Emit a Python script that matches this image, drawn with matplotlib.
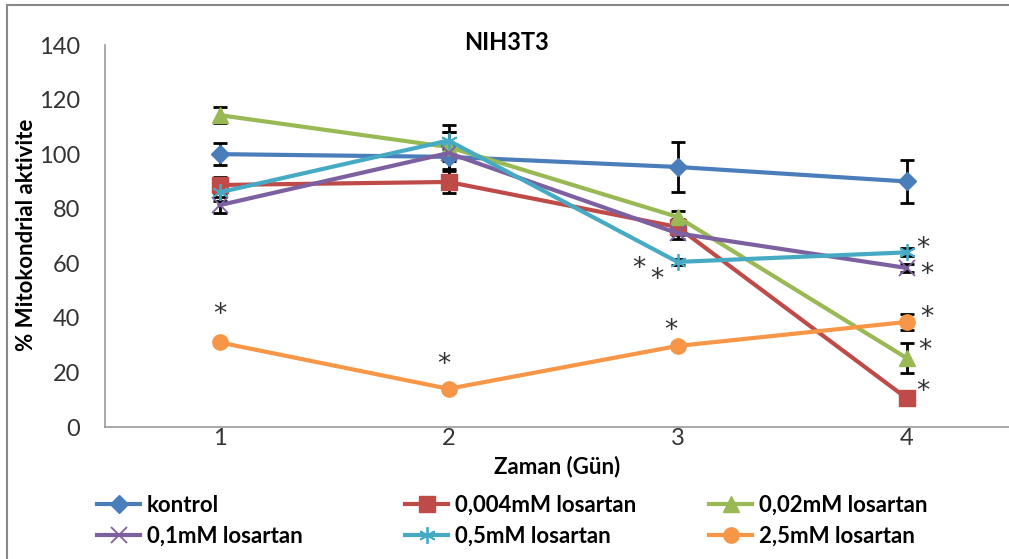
import numpy as np
import matplotlib.pyplot as plt
from matplotlib.patches import Rectangle

plt.rcParams['font.family'] = ['Lato', 'DejaVu Sans']

# Günler ve seri verileri
days = [1, 2, 3, 4]
labels = ['kontrol', '0,004mM losartan', '0,02mM losartan',
          '0,1mM losartan', '0,5mM losartan', '2,5mM losartan']
kontrol = [100, 99, 95.3, 90]
los_0004 = [88.7, 89.8, 73.3, 10.6]
los_002 = [114.3, 102.6, 77, 25.3]
los_01 = [81.3, 100.4, 71, 58.3]
los_05 = [86, 105, 60.5, 64]
los_25 = [31, 14, 29.7, 38.5]

err_kontrol = [4, 9, 9, 8]
err_0004 = [3, 4, 3, 1]
err_002 = [3, 8, 2, 5.5]
err_01 = [3, 3, 2, 1.5]
err_05 = [3, 3, 1, 1.5]
err_25 = [1, 1, 1, 3]

# anlamlılık yıldızları (x, y)
star_x = [1.0, 1.98, 2.97, 2.83, 2.91, 4.07, 4.09, 4.09, 4.08, 4.07]
star_y = [41.0, 22.8, 35.2, 57.9, 53.9, 65.3, 55.7, 40.0, 27.9, 12.9]

series = [kontrol, los_0004, los_002, los_01, los_05, los_25]
errors = [err_kontrol, err_0004, err_002, err_01, err_05, err_25]
colors = ['#4A7EBB', '#BE4B48', '#98B954', '#7D60A0', '#46AAC5', '#F79646']
markers = ['D', 's', '^', 'x', (6, 2, 0), 'o']
msizes = [9, 11, 11, 11, 12, 11]

W, H = 1009, 559
fig = plt.figure(figsize=(W / 100, H / 100), dpi=100)
ax = fig.add_axes([105 / W, 132 / H, 916 / W, 382 / H])

handles = []
for y, e, c, m, ms in zip(series, errors, colors, markers, msizes):
    ax.errorbar(days, y, yerr=e, fmt='none', ecolor='black', elinewidth=2,
                capsize=5, capthick=2, zorder=2)
    thin = m == 'x' or isinstance(m, tuple)
    h, = ax.plot(days, y, color=c, lw=3, marker=m, markersize=ms,
                 markeredgecolor=c, markeredgewidth=1.3 if thin else 1,
                 zorder=3)
    handles.append(h)

for sx, sy in zip(star_x, star_y):
    ax.text(sx, sy, '*', fontsize=19, color='#333333', ha='center', va='center',
            family='DejaVu Sans')

ax.set_xlim(0.5, 4.5)
ax.set_ylim(0, 140)
ax.set_yticks(np.arange(0, 141, 20))
ax.set_xticks(days)
ax.tick_params(axis='both', length=0, labelsize=17, colors='#333333')
ax.tick_params(axis='y', pad=18)
ax.tick_params(axis='x', pad=1)
for s in ['top', 'right']:
    ax.spines[s].set_visible(False)
ax.spines['left'].set_color('#999999')
ax.spines['bottom'].set_color('#999999')
ax.spines['left'].set_linewidth(1.2)
ax.spines['bottom'].set_linewidth(1.2)

fig.text(506 / W, 1 - 42 / H, 'NIH3T3', fontsize=17, fontweight='bold',
         ha='center', va='center')
fig.text(557 / W, 1 - 467 / H, 'Zaman (Gün)', fontsize=16, fontweight='bold',
         ha='center', va='center')
fig.text(27 / W, 1 - 235 / H, '% Mitokondrial aktivite', fontsize=16,
         fontweight='bold', rotation=90, ha='center', va='center')

# üç sütunlu gösterge
col_x = [97, 405, 709]
for i, cx in enumerate(col_x):
    leg = fig.legend([handles[i], handles[i + 3]], [labels[i], labels[i + 3]],
                     loc='upper left', bbox_to_anchor=(cx / W, 1 - 495 / H),
                     frameon=False, borderpad=0, borderaxespad=0,
                     handlelength=1.95, handletextpad=0.3, labelspacing=0.45,
                     prop={'size': 16, 'weight': 'bold'})

# dış çerçeve
fig.patches.append(Rectangle((7 / W, -0.1), 1.2, 1 - 5 / H + 0.1,
                             transform=fig.transFigure, fill=False,
                             edgecolor='#888888', lw=1.5))

fig.savefig('out.png', dpi=100)
